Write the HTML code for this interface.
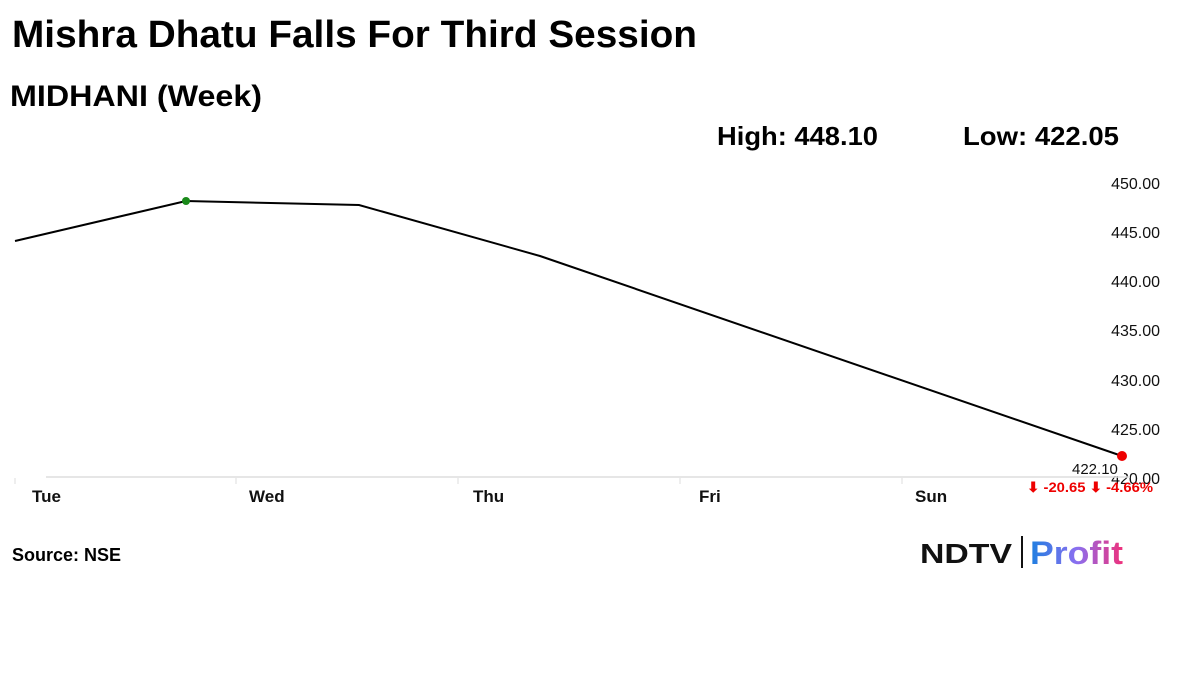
<!DOCTYPE html>
<html><head><meta charset="utf-8"><style>
body{margin:0;width:1200px;height:675px;background:#fff;overflow:hidden;font-family:"Liberation Sans",sans-serif}
</style></head><body>
<svg width="1200" height="675" xmlns="http://www.w3.org/2000/svg" font-family="Liberation Sans, sans-serif">
<text x="12" y="47" font-size="38" font-weight="bold" fill="#000" textLength="685" lengthAdjust="spacingAndGlyphs">Mishra Dhatu Falls For Third Session</text>
<text x="10" y="106" font-size="30" font-weight="bold" fill="#000" textLength="252" lengthAdjust="spacingAndGlyphs">MIDHANI (Week)</text>
<text x="717" y="145" font-size="26" font-weight="bold" fill="#000" textLength="161" lengthAdjust="spacingAndGlyphs">High: 448.10</text>
<text x="963" y="145" font-size="26" font-weight="bold" fill="#000" textLength="156" lengthAdjust="spacingAndGlyphs">Low: 422.05</text>
<g font-size="16" fill="#111" text-anchor="end">
<text x="1160" y="189">450.00</text>
<text x="1160" y="238">445.00</text>
<text x="1160" y="287">440.00</text>
<text x="1160" y="336">435.00</text>
<text x="1160" y="386">430.00</text>
<text x="1160" y="435">425.00</text>
<text x="1160" y="484">420.00</text>
</g>
<line x1="46" y1="477" x2="1130" y2="477" stroke="#ddd" stroke-width="1.5"/>
<g stroke="#ddd"><line x1="15" y1="478" x2="15" y2="484"/><line x1="236" y1="478" x2="236" y2="484"/><line x1="458" y1="478" x2="458" y2="484"/><line x1="680" y1="478" x2="680" y2="484"/><line x1="902" y1="478" x2="902" y2="484"/></g>
<g font-size="17" font-weight="bold" fill="#111">
<text x="32" y="502">Tue</text><text x="249" y="502">Wed</text><text x="473" y="502">Thu</text><text x="699" y="502">Fri</text><text x="915" y="502">Sun</text>
</g>
<polyline points="15,241 186,201 359,205 540,256 1122,456" fill="none" stroke="#000" stroke-width="2"/>
<circle cx="186" cy="201" r="4" fill="#1a8a1a"/>
<circle cx="1122" cy="456" r="5" fill="#e00"/>
<rect x="1068" y="462" width="56" height="14" fill="#fff"/>
<text x="1072" y="474" font-size="15" fill="#111">422.10</text>
<text x="1027" y="492" font-size="14" font-weight="bold" fill="#e00" textLength="126" lengthAdjust="spacingAndGlyphs">⬇ -20.65 ⬇ -4.66%</text>
<text x="12" y="561" font-size="18" font-weight="bold" fill="#000">Source: NSE</text>
<text x="920" y="563" font-size="28" font-weight="900" fill="#111" textLength="92" lengthAdjust="spacingAndGlyphs">NDTV</text>
<line x1="1022" y1="536" x2="1022" y2="568" stroke="#111" stroke-width="2"/>
<defs><linearGradient id="g" x1="0" x2="1"><stop offset="0" stop-color="#1e7fe0"/><stop offset="0.5" stop-color="#8a6ff0"/><stop offset="1" stop-color="#f0307a"/></linearGradient></defs>
<text x="1030" y="564" font-size="32" font-weight="bold" fill="url(#g)" textLength="93" lengthAdjust="spacingAndGlyphs">Profit</text>
</svg>
</body></html>
